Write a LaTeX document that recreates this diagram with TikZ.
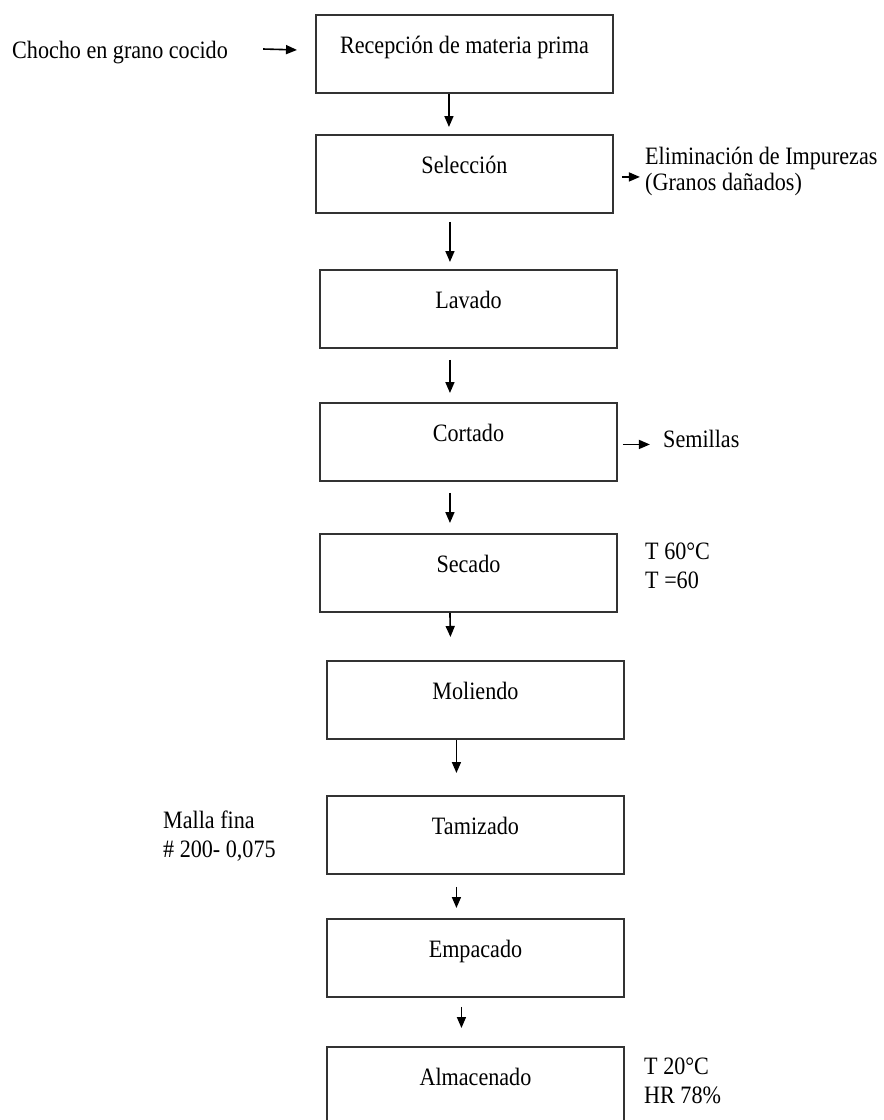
\documentclass[tikz,border=0pt]{standalone}
\usepackage{fontspec}
\setmainfont{Liberation Serif}[FakeStretch=0.885]
\usetikzlibrary{arrows.meta}
\definecolor{boxgray}{HTML}{333333}
\begin{document}
\begin{tikzpicture}[x=1pt,y=-1pt,
  box/.style={draw=boxgray, line width=1.9pt, minimum width=297pt, minimum height=78pt,
    inner sep=0pt, anchor=north west, text height=18pt, text depth=18pt,
    font=\fontsize{25}{29}\selectfont},
  side/.style={inner sep=0pt, align=left, font=\fontsize{25}{29}\selectfont},
  arr/.style={line width=1.6pt, -{Triangle[length=11pt,width=9pt]}}]
\useasboundingbox (0,0) rectangle (884,1120);

% process boxes
\node[box] (b1) at (315,14)   {Recepción de materia prima};
\node[box] (b2) at (315,134)  {Selección};
\node[box] (b3) at (319,269)  {Lavado};
\node[box] (b4) at (319,402)  {Cortado};
\node[box] (b5) at (319,533)  {Secado};
\node[box] (b6) at (326,660)  {Moliendo};
\node[box] (b7) at (326,795)  {Tamizado};
\node[box] (b8) at (326,918)  {Empacado};
\node[box] (b9) at (326,1046) {Almacenado};

% side texts
\node[side, anchor=base west] (chocho) at (12,58) {Chocho en grano cocido};
\node[side, anchor=base west, font=\fontsize{25}{26}\selectfont] (elim) at (645,190) {Eliminación de Impurezas\\(Granos dañados)};
\node[side, anchor=base west] (sem) at (663,447) {Semillas};
\node[side, anchor=base west] (sec) at (645,588) {T 60°C\\T =60};
\node[side, anchor=base west] (malla) at (163,857) {Malla fina\\\# 200- 0,075};
\node[side, anchor=base west] (alm) at (644,1103) {T 20°C\\HR 78\%};

% main flow arrows
\draw[arr] ([xshift=-15.5pt]b1.south) -- ([xshift=-15.5pt,yshift=7pt]b2.north);
\draw[arr] ([xshift=-14.5pt,yshift=-8pt]b2.south) -- ([xshift=-18.5pt,yshift=7pt]b3.north);
\draw[arr] ([xshift=-18.5pt,yshift=-11pt]b3.south) -- ([xshift=-18.5pt,yshift=9pt]b4.north);
\draw[arr] ([xshift=-18.5pt,yshift=-11pt]b4.south) -- ([xshift=-18.5pt,yshift=10pt]b5.north);
\draw[arr] ([xshift=-18.5pt]b5.south) -- ([xshift=-25pt,yshift=23pt]b6.north);
\draw[arr] ([xshift=-19pt]b6.south) -- ([xshift=-19pt,yshift=22pt]b7.north);
\draw[arr] ([xshift=-19pt,yshift=-12pt]b7.south) -- ([xshift=-19pt,yshift=10pt]b8.north);
\draw[arr] ([xshift=-14pt,yshift=-9pt]b8.south) -- ([xshift=-14pt,yshift=18pt]b9.north);

% side arrows
\draw[arr] ([xshift=35pt,yshift=9pt]chocho.base east) -- ([xshift=-18pt,yshift=4pt]b1.west);
\draw[arr] ([xshift=8pt,yshift=-3pt]b2.east) -- ([xshift=26pt,yshift=-3pt]b2.east);
\draw[arr] ([xshift=5pt,yshift=-2.5pt]b4.east) -- ([xshift=32pt,yshift=-2.5pt]b4.east);
\end{tikzpicture}
\end{document}
